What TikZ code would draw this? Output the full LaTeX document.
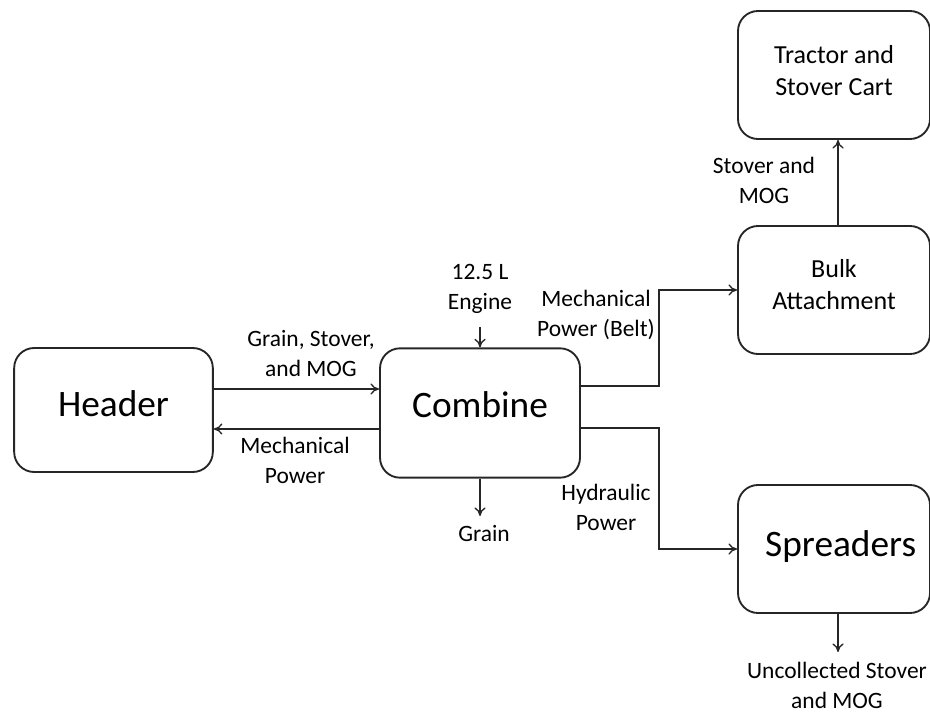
\documentclass[tikz,border=0pt]{standalone}
\usepackage{fontspec}
\setmainfont{Carlito}
\usetikzlibrary{arrows.meta}
\begin{document}
\begin{tikzpicture}[x=0.75pt,y=-0.75pt,
  box/.style={draw=black!85, line width=1.4pt, rounded corners=15pt, inner sep=0pt, align=center},
  bigtxt/.style={font=\fontsize{28}{33}\selectfont},
  midtxt/.style={font=\fontsize{19.5}{24}\selectfont, align=center},
  smalltxt/.style={font=\fontsize{17.6}{22.5}\selectfont},
  lbl/.style={smalltxt, align=center, inner sep=0pt},
  flow/.style={line width=1pt, draw=black!85, -{To[length=6.5pt,width=8.5pt]}}]
\useasboundingbox (0,0) rectangle (930,712);
\node[box, minimum width=149pt, minimum height=93pt,
  label={[bigtxt, yshift=4.5pt]center:Header}] (header) at (113.5,410) {};
\node[box, minimum width=150pt, minimum height=97pt,
  label={[bigtxt, yshift=6.5pt]center:Combine}] (combine) at (480,413) {};
\node[box, minimum width=144pt, minimum height=96pt,
  label={[midtxt, yshift=3pt]center:{Tractor and\\Stover Cart}}] (tractor) at (834,75) {};
\node[box, minimum width=144pt, minimum height=96pt,
  label={[midtxt, yshift=3.8pt]center:{Bulk\\Attachment}}] (bulk) at (834,290) {};
\node[box, minimum width=144pt, minimum height=96pt,
  label={[bigtxt, yshift=1.5pt, xshift=5pt]center:Spreaders}] (spread) at (834,549) {};
\coordinate (engine) at (480,327);
\coordinate (grain) at (480,516);
\coordinate (uncoll) at (838,652);
\draw[flow] (header.east |- 0,389) -- (combine.west |- 0,389);
\draw[flow] (combine.west |- 0,429) -- (header.east |- 0,429);
\draw[flow] (engine) -- (combine.north -| engine);
\draw[flow] (combine.south -| grain) -- (grain);
\draw[flow] (combine.east |- 0,386) -- (659,386) |- (bulk.west);
\draw[flow] (combine.east |- 0,428) -- (659,428) |- (spread.west);
\draw[flow] (bulk.north -| 838,0) -- (tractor.south -| 838,0);
\draw[flow] (spread.south -| uncoll) -- (uncoll);
\node[lbl] (l1) at (311,354) {Grain, Stover,\\and MOG};
\node[lbl] (l2) at (295,460) {Mechanical\\Power};
\node[lbl] (l3) at (480,289) {12.5 L\\Engine};
\node[lbl] (l4) at (596,315) {Mechanical\\Power (Belt)};
\node[lbl] (l5) at (606,507) {Hydraulic\\Power};
\node[lbl] (l6) at (484,534) {Grain};
\node[lbl] (l7) at (764,180) {Stover and\\MOG};
\node[lbl] (l8) at (837,685) {Uncollected Stover\\and MOG};
\end{tikzpicture}
\end{document}
